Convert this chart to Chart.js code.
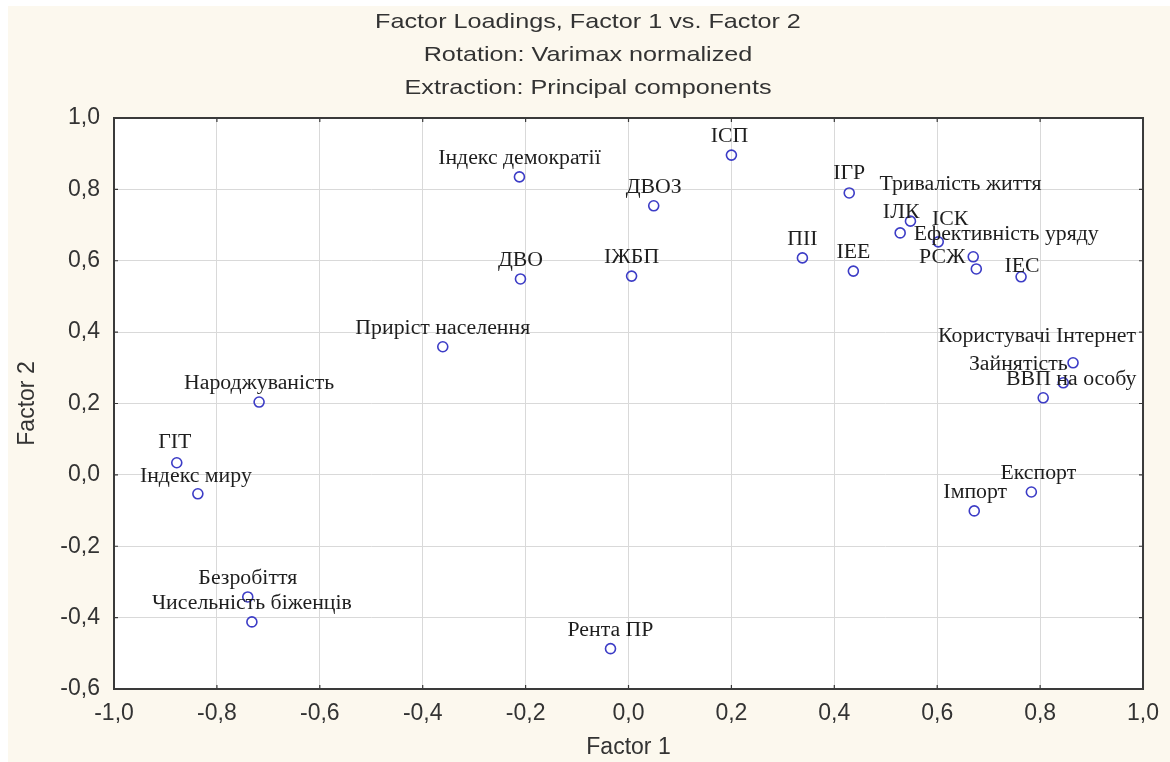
<!DOCTYPE html>
<html>
<head>
<meta charset="utf-8">
<script src="https://cdn.jsdelivr.net/npm/chart.js@4.4.1/dist/chart.umd.min.js"></script>
<style>
  html, body { margin: 0; padding: 0; background: #fff; }
</style>
</head>
<body>
<canvas id="chart" width="1170" height="762"></canvas>
<script>
// variable names and factor loadings
const names = [
  "ІСП", "Індекс демократії", "ДВОЗ", "ІГР", "Тривалість життя", "ІЛК", "ІСК",
  "Ефективність уряду", "РСЖ", "ІЕС", "ІЕЕ", "ПІІ", "ДВО", "ІЖБП",
  "Приріст населення", "Народжуваність", "ГІТ", "Індекс миру", "Безробіття",
  "Чисельність біженців", "Рента ПР", "Користувачі Інтернет", "Зайнятість",
  "ВВП на особу", "Експорт", "Імпорт"
];
const factor1 = [
  0.200, -0.212, 0.049, 0.429, 0.548, 0.528, 0.602,
  0.670, 0.676, 0.763, 0.437, 0.338, -0.210, 0.006,
  -0.361, -0.718, -0.878, -0.837, -0.740,
  -0.732, -0.035, 0.864, 0.845,
  0.806, 0.783, 0.672
];
const factor2 = [
  0.896, 0.835, 0.754, 0.790, 0.711, 0.678, 0.653,
  0.611, 0.577, 0.555, 0.571, 0.608, 0.549, 0.557,
  0.359, 0.204, 0.034, -0.053, -0.342,
  -0.412, -0.487, 0.314, 0.258,
  0.216, -0.048, -0.101
];
const xTickValues = [-1.0, -0.8, -0.6, -0.4, -0.2, 0.0, 0.2, 0.4, 0.6, 0.8, 1.0];
const yTickValues = [-0.6, -0.4, -0.2, 0.0, 0.2, 0.4, 0.6, 0.8, 1.0];
const titleLines = ["Factor Loadings, Factor 1 vs. Factor 2", "Rotation: Varimax normalized", "Extraction: Principal components"];

// where a label sits relative to its marker (pixels), default is centred above
const labelShift = {
  "ІСП": [-2, -18],
  "ІГР": [0, -19],
  "Тривалість життя": [50, -36],
  "ІЛК": [1, -20],
  "ІСК": [12, -22],
  "Ефективність уряду": [33, -22],
  "РСЖ": [-34, -11],
  "ІЕС": [1, -10],
  "ГІТ": [-2, -20],
  "Індекс миру": [-2, -17],
  "Користувачі Інтернет": [-36, -26],
  "Зайнятість": [-45, -18],
  "ВВП на особу": [28, -18],
  "Експорт": [7, -18],
  "Імпорт": [1, -18]
};

const fmt = (v) => {
  const s = Math.abs(v) < 1e-9 ? "0.0" : v.toFixed(1);
  return s.replace(".", ",");
};

// text in the original is a little wider than tall
function wideText(ctx, text, x, y, stretch) {
  ctx.save();
  ctx.translate(x, y);
  ctx.scale(stretch, 1);
  ctx.fillText(text, 0, 0);
  ctx.restore();
}

const frame = {
  id: "frame",
  beforeDraw(chart) {
    const { ctx, chartArea: a } = chart;
    ctx.save();
    ctx.fillStyle = "#fcf8ee";
    ctx.fillRect(8, 6, chart.width - 8, chart.height - 6);
    ctx.fillStyle = "#ffffff";
    ctx.fillRect(a.left, a.top, a.right - a.left, a.bottom - a.top);
    ctx.font = "21px 'Liberation Sans', Arial, sans-serif";
    ctx.fillStyle = "#333333";
    ctx.textAlign = "center";
    ctx.textBaseline = "middle";
    titleLines.forEach((t, i) => wideText(ctx, t, 588, 22.5 + i * 33, 1.2));
    ctx.restore();
  },
  beforeDatasetsDraw(chart) {
    const { ctx, chartArea: a, scales } = chart;
    ctx.save();
    ctx.strokeStyle = "#3a3a3a";
    ctx.lineWidth = 1.2;
    ctx.beginPath();
    xTickValues.forEach((v) => {
      const px = scales.x.getPixelForValue(v);
      ctx.moveTo(px, a.bottom); ctx.lineTo(px, a.bottom - 4);
      ctx.moveTo(px, a.top); ctx.lineTo(px, a.top + 4);
    });
    yTickValues.forEach((v) => {
      const py = scales.y.getPixelForValue(v);
      ctx.moveTo(a.left, py); ctx.lineTo(a.left + 4, py);
      ctx.moveTo(a.right, py); ctx.lineTo(a.right - 4, py);
    });
    ctx.stroke();
    ctx.lineWidth = 2;
    ctx.strokeRect(a.left, a.top, a.right - a.left, a.bottom - a.top);
    ctx.restore();
  },
  afterDatasetsDraw(chart) {
    const { ctx } = chart;
    const pts = chart.getDatasetMeta(0).data;
    ctx.save();
    ctx.font = "20px 'Liberation Serif'";
    ctx.fillStyle = "#1e1e1e";
    ctx.textAlign = "center";
    ctx.textBaseline = "middle";
    pts.forEach((p, i) => {
      const [dx, dy] = labelShift[names[i]] || [0, -18];
      wideText(ctx, names[i], p.x + dx, p.y + dy, 1.09);
    });
    ctx.restore();
  }
};

const axisFont = { family: "'Liberation Sans', Arial, sans-serif", size: 23 };

new Chart(document.getElementById("chart"), {
  type: "scatter",
  data: {
    datasets: [{
      data: factor1.map((x, i) => ({ x, y: factor2[i] })),
      pointStyle: "circle",
      pointRadius: 5,
      pointBorderWidth: 1.6,
      pointBorderColor: "#3c3cc6",
      pointBackgroundColor: "rgba(0,0,0,0)"
    }]
  },
  options: {
    responsive: false,
    animation: false,
    layout: { padding: { left: 0, right: 25, top: 118, bottom: 0 } },
    plugins: {
      legend: { display: false },
      tooltip: { enabled: false },
      title: { display: false }
    },
    scales: {
      x: {
        type: "linear",
        min: -1, max: 1,
        afterBuildTicks: (s) => { s.ticks = xTickValues.map((v) => ({ value: v })); },
        afterFit: (s) => { s.height = 73; },
        ticks: { callback: fmt, color: "#333333", font: axisFont, padding: 11, maxRotation: 0 },
        grid: { color: "#d9d9d9", lineWidth: 1, drawTicks: false },
        border: { display: false },
        title: { display: true, text: "Factor 1", color: "#333333", font: axisFont, padding: { top: 0, bottom: 1 } }
      },
      y: {
        type: "linear",
        min: -0.6, max: 1,
        afterBuildTicks: (s) => { s.ticks = yTickValues.map((v) => ({ value: v })); },
        afterFit: (s) => { s.width = 114; },
        ticks: { callback: fmt, color: "#333333", font: axisFont, padding: 14 },
        grid: { color: "#d9d9d9", lineWidth: 1, drawTicks: false },
        border: { display: false },
        title: { display: true, text: "Factor 2", color: "#333333", font: axisFont, padding: { top: 14, bottom: 0 } }
      }
    }
  },
  plugins: [frame]
});
</script>
</body>
</html>
